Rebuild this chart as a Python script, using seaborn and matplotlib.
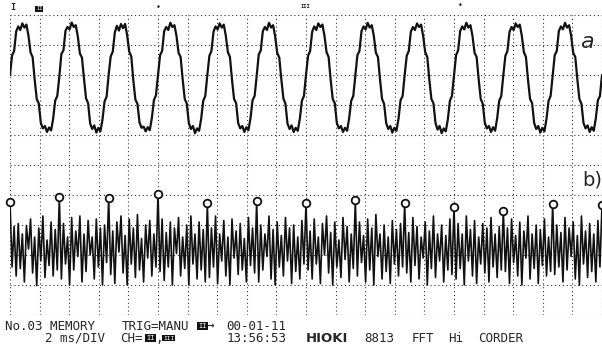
import numpy as np
import pandas as pd
import seaborn as sns
import matplotlib.pyplot as plt


# trace a (upper channel), one row per cycle, values in divisions
trace_a_rows = [
    [8.0, 8.65, 8.8, 9.45, 9.62, 9.5, 9.72, 9.58, 9.68, 9.3, 8.75, 8.6, 7.85, 7.2, 7.05, 6.4, 6.22, 6.3, 6.1, 6.25, 6.15, 6.55, 7.15, 7.3],
    [7.95, 8.7, 8.82, 9.48, 9.6, 9.52, 9.75, 9.6, 9.66, 9.28, 8.72, 8.58, 7.88, 7.22, 7.06, 6.38, 6.2, 6.32, 6.08, 6.24, 6.12, 6.52, 7.12, 7.28],
    [8.02, 8.62, 8.78, 9.42, 9.64, 9.48, 9.7, 9.56, 9.7, 9.32, 8.78, 8.62, 7.82, 7.18, 7.04, 6.42, 6.24, 6.28, 6.12, 6.26, 6.16, 6.56, 7.16, 7.32],
    [7.98, 8.66, 8.8, 9.46, 9.6, 9.5, 9.74, 9.6, 9.66, 9.3, 8.74, 8.6, 7.86, 7.2, 7.05, 6.4, 6.2, 6.3, 6.06, 6.22, 6.14, 6.54, 7.14, 7.3],
    [8.0, 8.64, 8.8, 9.44, 9.62, 9.52, 9.72, 9.58, 9.68, 9.3, 8.76, 8.6, 7.84, 7.2, 7.06, 6.4, 6.22, 6.3, 6.1, 6.26, 6.16, 6.56, 7.16, 7.3],
    [7.96, 8.68, 8.82, 9.46, 9.6, 9.5, 9.74, 9.58, 9.66, 9.28, 8.74, 8.58, 7.86, 7.22, 7.04, 6.38, 6.2, 6.32, 6.1, 6.24, 6.14, 6.54, 7.14, 7.3],
    [8.0, 8.64, 8.8, 9.44, 9.62, 9.5, 9.72, 9.6, 9.68, 9.3, 8.76, 8.6, 7.84, 7.2, 7.06, 6.4, 6.22, 6.3, 6.1, 6.24, 6.14, 6.56, 7.14, 7.3],
    [7.98, 8.66, 8.8, 9.46, 9.62, 9.52, 9.74, 9.58, 9.66, 9.3, 8.74, 8.6, 7.86, 7.2, 7.04, 6.4, 6.2, 6.3, 6.08, 6.24, 6.14, 6.54, 7.16, 7.3],
    [8.0, 8.64, 8.8, 9.44, 9.6, 9.5, 9.72, 9.6, 9.68, 9.3, 8.76, 8.6, 7.84, 7.2, 7.06, 6.4, 6.18, 6.3, 6.06, 6.22, 6.12, 6.52, 7.14, 7.3],
    [7.98, 8.66, 8.82, 9.46, 9.62, 9.52, 9.74, 9.58, 9.66, 9.3, 8.74, 8.6, 7.86, 7.2, 7.04, 6.4, 6.22, 6.3, 6.1, 6.26, 6.14, 6.56, 7.14, 7.3],
    [8.0, 8.64, 8.8, 9.44, 9.6, 9.5, 9.72, 9.6, 9.68, 9.3, 8.76, 8.6, 7.84, 7.2, 7.06, 6.4, 6.2, 6.3, 6.08, 6.24, 6.12, 6.54, 7.14, 7.3],
    [7.98, 8.66, 8.8, 9.46, 9.62, 9.52, 9.74, 9.58, 9.66, 9.3, 8.74, 8.6, 7.86, 7.2, 7.04, 6.4, 6.22, 6.32, 6.1, 6.26, 6.14, 6.56, 7.16, 7.3],
]
trace_a_last = 8.0

# trace b (lower channel), first value of each row is the marked peak
trace_b_rows = [
    [3.78, 1.6, 2.95, 1.3, 3.05, 1.55, 2.7, 1.1, 2.98, 2.2, 3.2, 1.4, 2.6, 0.98, 2.9, 1.8, 3.3, 1.25, 2.5, 1.65, 3.1, 1.3, 2.85, 1.5],
    [3.93, 1.2, 3.05, 1.7, 2.6, 1.0, 3.25, 1.5, 2.8, 1.95, 3.3, 1.1, 2.7, 1.45, 3.15, 2.0, 2.6, 1.2, 3.2, 1.6, 2.9, 1.0, 3.0, 1.75],
    [3.9, 1.35, 2.8, 1.05, 3.1, 2.1, 3.3, 1.4, 2.65, 1.0, 3.2, 1.7, 2.9, 1.25, 3.35, 1.5, 2.55, 1.1, 3.0, 1.9, 3.15, 1.3, 2.7, 1.6],
    [4.02, 1.45, 3.2, 1.15, 2.75, 1.6, 3.1, 1.0, 2.9, 2.05, 3.25, 1.3, 2.6, 1.55, 3.0, 1.0, 3.3, 1.7, 2.7, 1.2, 3.1, 1.5, 2.85, 1.1],
    [3.72, 1.25, 2.9, 1.6, 3.3, 1.05, 2.7, 1.8, 3.15, 1.3, 2.6, 1.0, 3.2, 1.9, 2.8, 1.35, 3.05, 1.5, 2.55, 1.1, 3.25, 1.65, 2.9, 1.4],
    [3.8, 1.1, 3.0, 1.5, 2.7, 1.95, 3.3, 1.2, 2.85, 1.0, 3.1, 1.6, 2.65, 1.3, 3.25, 1.8, 2.9, 1.05, 3.0, 1.45, 2.6, 1.2, 3.15, 1.7],
    [3.72, 1.5, 2.8, 1.2, 3.2, 1.7, 2.6, 1.05, 3.05, 2.0, 3.3, 1.4, 2.75, 1.0, 3.1, 1.6, 2.5, 1.25, 3.25, 1.85, 2.95, 1.1, 2.7, 1.55],
    [3.82, 1.3, 3.1, 1.75, 2.65, 1.1, 3.2, 1.5, 2.9, 1.0, 3.35, 1.95, 2.7, 1.2, 3.0, 1.45, 2.6, 1.05, 3.15, 1.7, 2.85, 1.3, 3.05, 1.6],
    [3.72, 1.4, 2.75, 1.1, 3.25, 1.65, 2.95, 1.2, 2.6, 1.9, 3.1, 1.0, 2.8, 1.55, 3.3, 1.25, 2.7, 1.8, 3.0, 1.1, 2.65, 1.5, 3.2, 1.35],
    [3.6, 1.2, 3.05, 1.55, 2.7, 1.0, 3.3, 1.8, 2.85, 1.3, 3.15, 1.05, 2.6, 1.7, 3.05, 1.4, 2.9, 1.1, 3.25, 1.6, 2.7, 1.25, 2.95, 1.5],
    [3.47, 1.45, 2.9, 1.05, 3.2, 1.75, 2.65, 1.3, 3.1, 1.0, 2.8, 1.9, 3.3, 1.2, 2.7, 1.55, 3.0, 1.05, 2.85, 1.65, 3.2, 1.3, 2.6, 1.45],
    [3.7, 1.35, 3.0, 1.6, 2.75, 1.1, 3.25, 1.5, 2.9, 1.95, 3.1, 1.2, 2.65, 1.0, 3.3, 1.7, 2.8, 1.25, 3.05, 1.45, 2.7, 1.1, 3.15, 1.6],
]
trace_b_last = 3.67

samples_per_cycle = 24
n_div_x, n_div_y = 20, 10

trace_a = [v for row in trace_a_rows for v in row] + [trace_a_last]
trace_b = [v for row in trace_b_rows for v in row] + [trace_b_last]
t = np.linspace(0, n_div_x, len(trace_a))

df = pd.DataFrame({"t": t, "a": trace_a, "b": trace_b})
peaks = df.iloc[::samples_per_cycle]

sns.set_theme(style="white")
plt.rcParams["font.family"] = ["DejaVu Sans Mono", "DejaVu Sans"]

fig = plt.figure(figsize=(6.02, 3.47), dpi=100)
ax = fig.add_axes([10 / 602, 32 / 347, 592 / 602, 300 / 347])

# dotted recorder grid
for gx in range(n_div_x + 1):
    ax.axvline(gx, color="#333333", linestyle=(0, (1, 2.5)), linewidth=0.8, zorder=0)
for gy in range(n_div_y + 1):
    ax.axhline(gy, color="#333333", linestyle=(0, (1, 2.5)), linewidth=0.8, zorder=0)

sns.lineplot(data=df, x="t", y="a", ax=ax, color="#111111", linewidth=1.6,
             estimator=None, sort=False)
sns.lineplot(data=df, x="t", y="b", ax=ax, color="#111111", linewidth=1.2,
             estimator=None, sort=False)
ax.plot(peaks["t"], peaks["b"], linestyle="none", marker="o", markersize=5.5,
        markerfacecolor="white", markeredgecolor="#111111", markeredgewidth=1.3,
        clip_on=False, zorder=5)

ax.set_xlim(0, n_div_x)
ax.set_ylim(0, n_div_y)
ax.set_xlabel("")
ax.set_ylabel("")
ax.set_xticks([])
ax.set_yticks([])
for s in ax.spines.values():
    s.set_visible(False)


def ftext(x, y, s, **kw):
    fig.text(x / 602, 1 - y / 347, s, va="center", ha="left", **kw)


box = dict(boxstyle="square,pad=0.15", fc="#111111", ec="none")

# channel / trigger marks along the top
ftext(10, 8, "I", fontsize=6, fontweight="bold")
ftext(36, 9, "II", fontsize=4, color="white", bbox=box)
ftext(156, 7, "•", fontsize=6)
ftext(301, 6, "III", fontsize=4, fontweight="bold")
ftext(458, 6, "•", fontsize=6)

# handwritten labels
ftext(580, 42, "a", fontsize=16, family="DejaVu Sans", fontstyle="italic")
ftext(582, 180, "b)", fontsize=14, family="DejaVu Sans")

# footer
fs = 9
ftext(5, 326, "No.03 MEMORY", fontsize=fs)
ftext(122, 326, "TRIG=MANU", fontsize=fs)
ftext(198, 326, "II", fontsize=5, color="white", bbox=box)
ftext(207, 326, "→", fontsize=fs)
ftext(226, 326, "00-01-11", fontsize=fs)
ftext(45, 338, "2 ms/DIV", fontsize=fs)
ftext(120, 338, "CH=", fontsize=fs)
ftext(146, 338, "II", fontsize=5, color="white", bbox=box)
ftext(155, 338, ",", fontsize=fs)
ftext(163, 338, "III", fontsize=4.5, color="white", bbox=box)
ftext(227, 338, "13:56:53", fontsize=fs)
ftext(306, 338, "HIOKI", fontsize=9.5, fontweight="bold", family="DejaVu Sans")
ftext(364, 338, "8813", fontsize=fs)
ftext(412, 338, "FFT", fontsize=fs)
ftext(448, 338, "Hi", fontsize=fs)
ftext(478, 338, "CORDER", fontsize=fs)

fig.savefig("out.png", dpi=100)
